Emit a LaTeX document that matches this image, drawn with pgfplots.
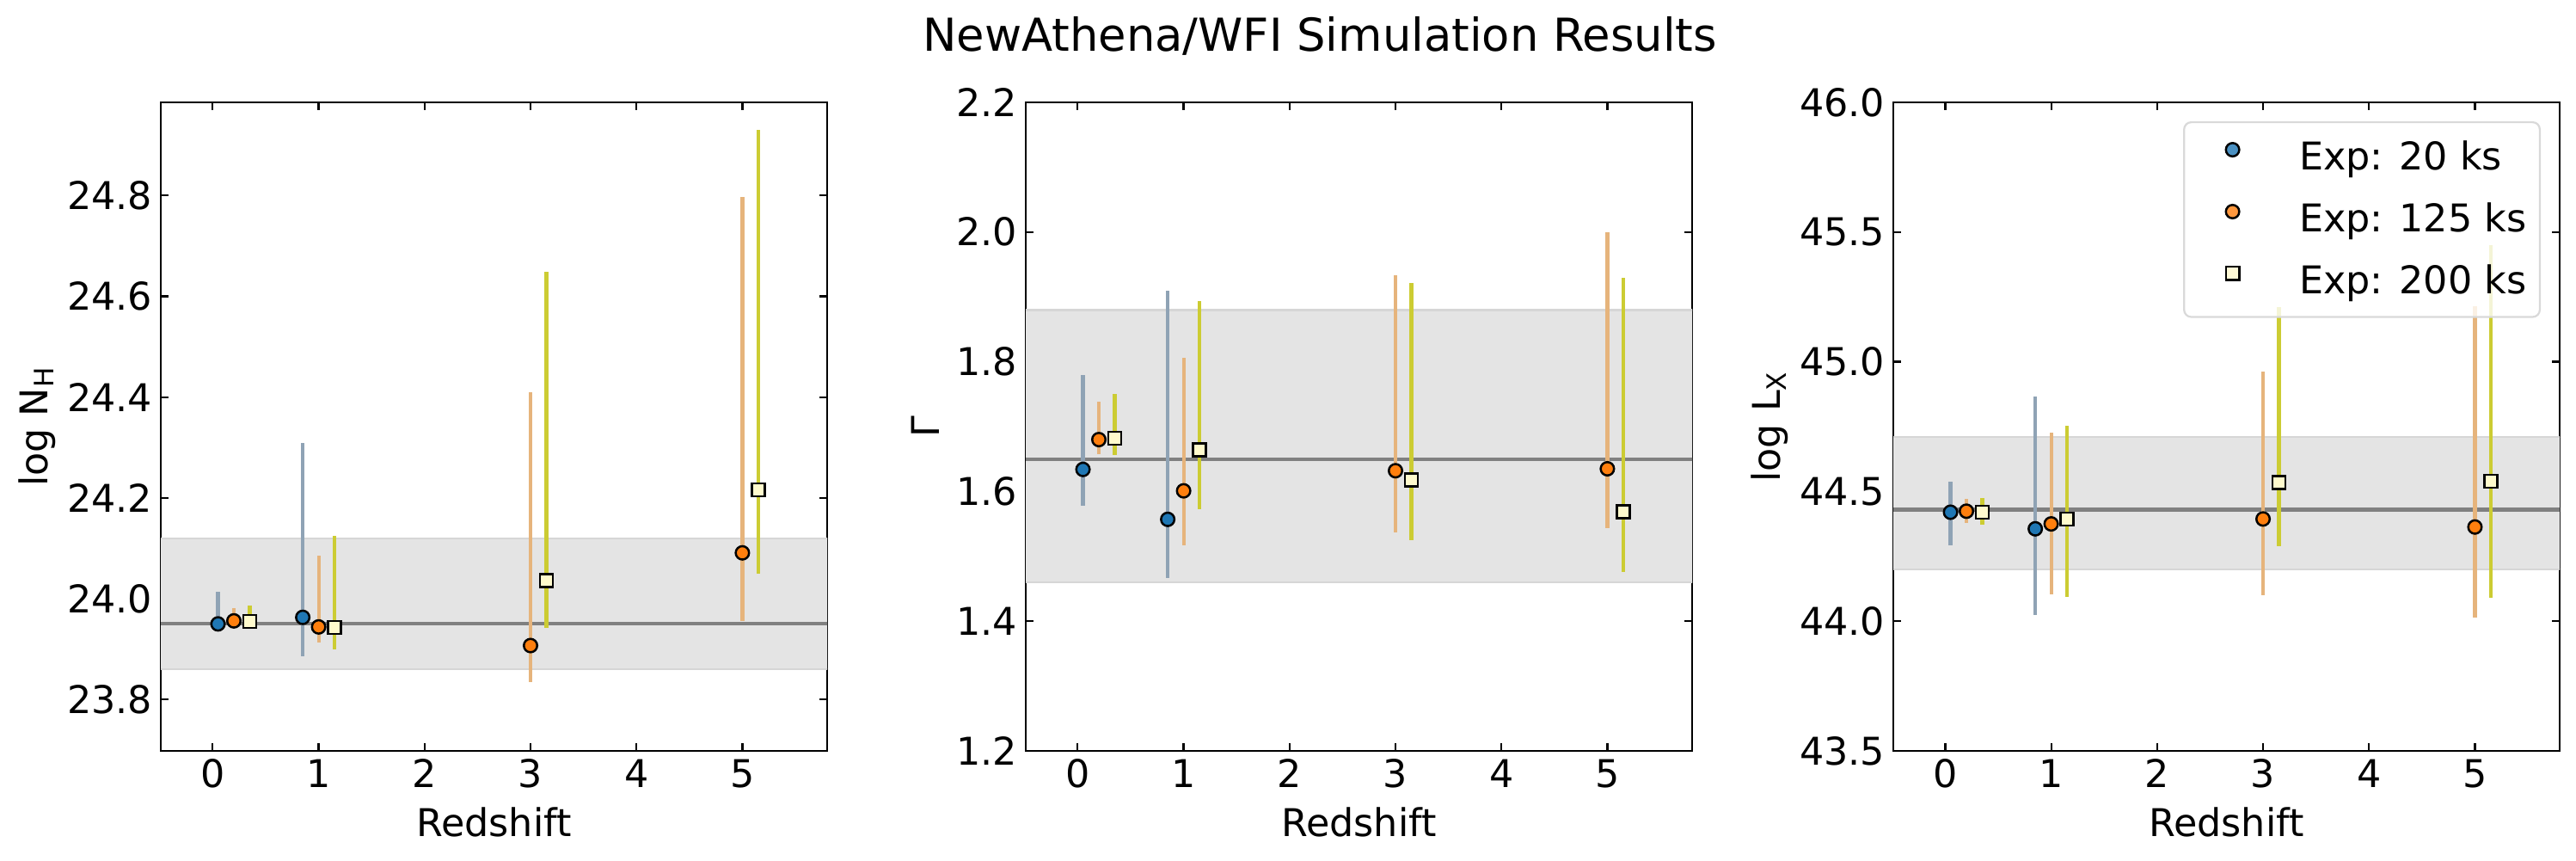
\documentclass[border=0pt]{standalone}
\usepackage{pgfplots}
\usepackage{pgfplotstable}
\pgfplotsset{compat=1.18}
\usepackage{fontspec}
\setmainfont{DejaVu Sans}

\definecolor{c20}{HTML}{1F77B4}
\definecolor{c125}{HTML}{FF7F0E}
\definecolor{c200}{HTML}{FFFACD}
\definecolor{e20}{HTML}{8FA3B5}
\definecolor{e125}{HTML}{E6B47C}
\definecolor{e200}{HTML}{CCCC33}
\definecolor{bandfill}{HTML}{E4E4E4}
\definecolor{bandedge}{HTML}{D6D6D6}
\definecolor{refline}{HTML}{808080}
\definecolor{legedge}{HTML}{D9D9D9}

\newcommand{\fs}{\fontsize{16}{19}\selectfont}

\pgfplotsset{
  panel/.style={
    scale only axis, width=279pt, height=271.44pt,
    anchor=south west,
    xmin=-0.49, xmax=5.8, xtick={0,1,2,3,4,5},
    tick align=inside, major tick length=3.4pt,
    every tick/.style={black, line width=0.8pt},
    axis line style={line width=0.8pt},
    font=\fs, tick label style={font=\fs},
    /pgf/number format/assume math mode=true,
    xlabel={Redshift},
    every axis x label/.style={at={(axis description cs:0.5,0)}, anchor=base, yshift=-36pt},
    yticklabel style={/pgf/number format/.cd, fixed, fixed zerofill, precision=1},
  },
  errs/.style={forget plot, draw=none, mark=none,
    error bars/.cd, y dir=both, y explicit, error mark=none,
    error bar style={draw=#1, line width=1.5pt, solid}},
  m20/.style={only marks, mark=*, mark size=2.8pt, mark options={fill=c20, draw=black, line width=0.9pt}},
  m125/.style={only marks, mark=*, mark size=2.8pt, mark options={fill=c125, draw=black, line width=0.9pt}},
  m200/.style={only marks, mark=square*, mark size=2.7pt, mark options={fill=c200, draw=black, line width=0.9pt}},
}

% columns: redshift (offset), best fit, lower, upper
\pgfplotstableread{
x y lo hi
0.05 23.950 23.940 24.013
0.85 23.963 23.885 24.309
}\nhA
\pgfplotstableread{
x y lo hi
0.20 23.956 23.946 23.981
1.00 23.944 23.913 24.085
3.00 23.907 23.835 24.410
5.00 24.091 23.955 24.798
}\nhB
\pgfplotstableread{
x y lo hi
0.35 23.955 23.945 23.986
1.15 23.943 23.900 24.124
3.15 24.036 23.942 24.648
5.15 24.216 24.049 24.930
}\nhC

\pgfplotstableread{
x y lo hi
0.05 1.634 1.578 1.779
0.85 1.557 1.467 1.910
}\gaA
\pgfplotstableread{
x y lo hi
0.20 1.680 1.657 1.738
1.00 1.601 1.517 1.806
3.00 1.632 1.537 1.934
5.00 1.635 1.543 2.000
}\gaB
\pgfplotstableread{
x y lo hi
0.35 1.682 1.656 1.751
1.15 1.664 1.573 1.893
3.15 1.618 1.525 1.922
5.15 1.569 1.476 1.930
}\gaC

\pgfplotstableread{
x y lo hi
0.05 44.420 44.292 44.537
0.85 44.356 44.025 44.865
}\lxA
\pgfplotstableread{
x y lo hi
0.20 44.424 44.378 44.471
1.00 44.375 44.105 44.726
3.00 44.394 44.101 44.963
5.00 44.363 44.014 45.213
}\lxB
\pgfplotstableread{
x y lo hi
0.35 44.420 44.372 44.475
1.15 44.394 44.095 44.752
3.15 44.535 44.289 45.211
5.15 44.539 44.091 45.451
}\lxC

\newcommand{\errtab}[2]{\addplot[errs=#1] table[x=x, y=y,
  y error plus expr=\thisrow{hi}-\thisrow{y},
  y error minus expr=\thisrow{y}-\thisrow{lo}] {#2};}

\begin{document}
\begin{tikzpicture}
\path[use as bounding box] (0,0) rectangle (1078.56pt,360.36pt);

\node[anchor=base, font=\fontsize{19}{23}\selectfont] at (552.6pt,338.8pt) {NewAthena/WFI Simulation Results};

% log NH
\begin{axis}[panel, at={(67.32pt,46.08pt)},
  ymin=23.698, ymax=24.985, ytick={23.8,24.0,24.2,24.4,24.6,24.8},
  ylabel={log N\textsubscript{H}},
  every axis y label/.style={at={(axis description cs:-0.186,0.5)}, rotate=90, anchor=center}]
\addplot[forget plot, fill=bandfill, draw=bandedge, line width=0.9pt] coordinates {(-1,23.86) (7,23.86) (7,24.12) (-1,24.12)} -- cycle;
\addplot[forget plot, refline, line width=1.5pt] coordinates {(-1,23.95) (7,23.95)};
\errtab{e20}{\nhA}
\errtab{e125}{\nhB}
\errtab{e200}{\nhC}
\addplot[m20] table[x=x, y=y] {\nhA};
\addplot[m125] table[x=x, y=y] {\nhB};
\addplot[m200] table[x=x, y=y] {\nhC};
\end{axis}

% Gamma
\begin{axis}[panel, at={(429.48pt,46.08pt)},
  ymin=1.2, ymax=2.2, ytick={1.2,1.4,1.6,1.8,2.0,2.2},
  ylabel={Γ},
  every axis y label/.style={at={(axis description cs:-0.150,0.5)}, rotate=90, anchor=center}]
\addplot[forget plot, fill=bandfill, draw=bandedge, line width=0.9pt] coordinates {(-1,1.46) (7,1.46) (7,1.88) (-1,1.88)} -- cycle;
\addplot[forget plot, refline, line width=1.5pt] coordinates {(-1,1.65) (7,1.65)};
\errtab{e20}{\gaA}
\errtab{e125}{\gaB}
\errtab{e200}{\gaC}
\addplot[m20] table[x=x, y=y] {\gaA};
\addplot[m125] table[x=x, y=y] {\gaB};
\addplot[m200] table[x=x, y=y] {\gaC};
\end{axis}

% log LX
\begin{axis}[panel, at={(792.72pt,46.08pt)},
  ymin=43.5, ymax=46.0, ytick={43.5,44.0,44.5,45.0,45.5,46.0},
  ylabel={log L\textsubscript{X}},
  every axis y label/.style={at={(axis description cs:-0.186,0.5)}, rotate=90, anchor=center},
  legend image code/.code={\path[draw=none, fill=none] (0pt,-2pt) rectangle (36pt,12pt);
    \draw[#1, mark size=2.8pt] plot coordinates {(16.7pt,4.4pt)};},
  legend style={at={(axis description cs:0.9716,0.9708)}, anchor=north east,
    font=\fs, fill=white, fill opacity=0.8, text opacity=1, draw opacity=1,
    draw=legedge, line width=0.8pt, rounded corners=3pt,
    inner xsep=3.6pt, inner ysep=3.9pt, column sep=6.6pt, row sep=4pt,
    nodes={inner sep=2pt, text height=12pt, text depth=3.8pt},
    cells={anchor=west}}]
\addplot[forget plot, fill=bandfill, draw=bandedge, line width=0.9pt] coordinates {(-1,44.20) (7,44.20) (7,44.71) (-1,44.71)} -- cycle;
\addplot[forget plot, refline, line width=1.5pt] coordinates {(-1,44.43) (7,44.43)};
\errtab{e20}{\lxA}
\errtab{e125}{\lxB}
\errtab{e200}{\lxC}
\addplot[m20] table[x=x, y=y] {\lxA};
\addplot[m125] table[x=x, y=y] {\lxB};
\addplot[m200] table[x=x, y=y] {\lxC};
\legend{Exp: 20 ks, Exp: 125 ks, Exp: 200 ks}
\end{axis}
\end{tikzpicture}
\end{document}
